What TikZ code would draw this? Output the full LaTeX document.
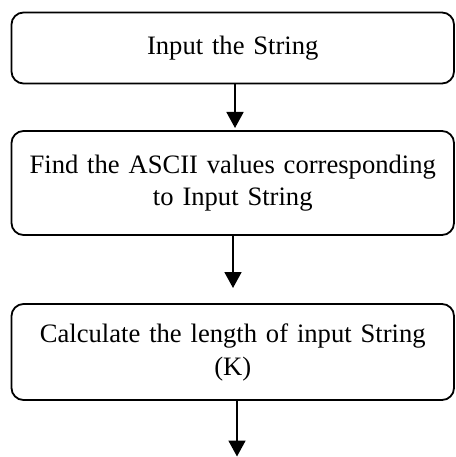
\documentclass[tikz,border=0pt]{standalone}
\usepackage{fontspec}
\setmainfont{Liberation Serif}
\usetikzlibrary{arrows.meta}
\tikzset{
  stepbox/.style={draw=black, line width=1.8pt, rounded corners=12pt, fill=white,
    minimum width=442.5pt, inner sep=0pt, text width=440pt, align=center,
    font=\fontsize{26.6}{31.6}\selectfont},
  arr/.style={line width=1.8pt, -{Triangle[length=16pt,width=17pt]}}
}
\begin{document}
\begin{tikzpicture}[x=1pt,y=-1pt]
\useasboundingbox (0,0) rectangle (455,457);
\node[stepbox, minimum height=71pt] (b1) at (232.75,48) {Input the String};
\node[stepbox, minimum height=104pt] (b2) at (232.75,183) {Find the ASCII values corresponding\\to Input String};
\node[stepbox, minimum height=96pt, font=\fontsize{26.6}{33}\selectfont] (b3) at (232.75,352) {Calculate the length of input String\\(K)};
\coordinate (a1) at (235,128);
\coordinate (a2) at (233,288);
\coordinate (a3) at (237,456.5);
\draw[arr] (b1.south -| a1) -- (a1);
\draw[arr] (b2.south -| a2) -- (a2);
\draw[arr] (b3.south -| a3) -- (a3);
\end{tikzpicture}
\end{document}
